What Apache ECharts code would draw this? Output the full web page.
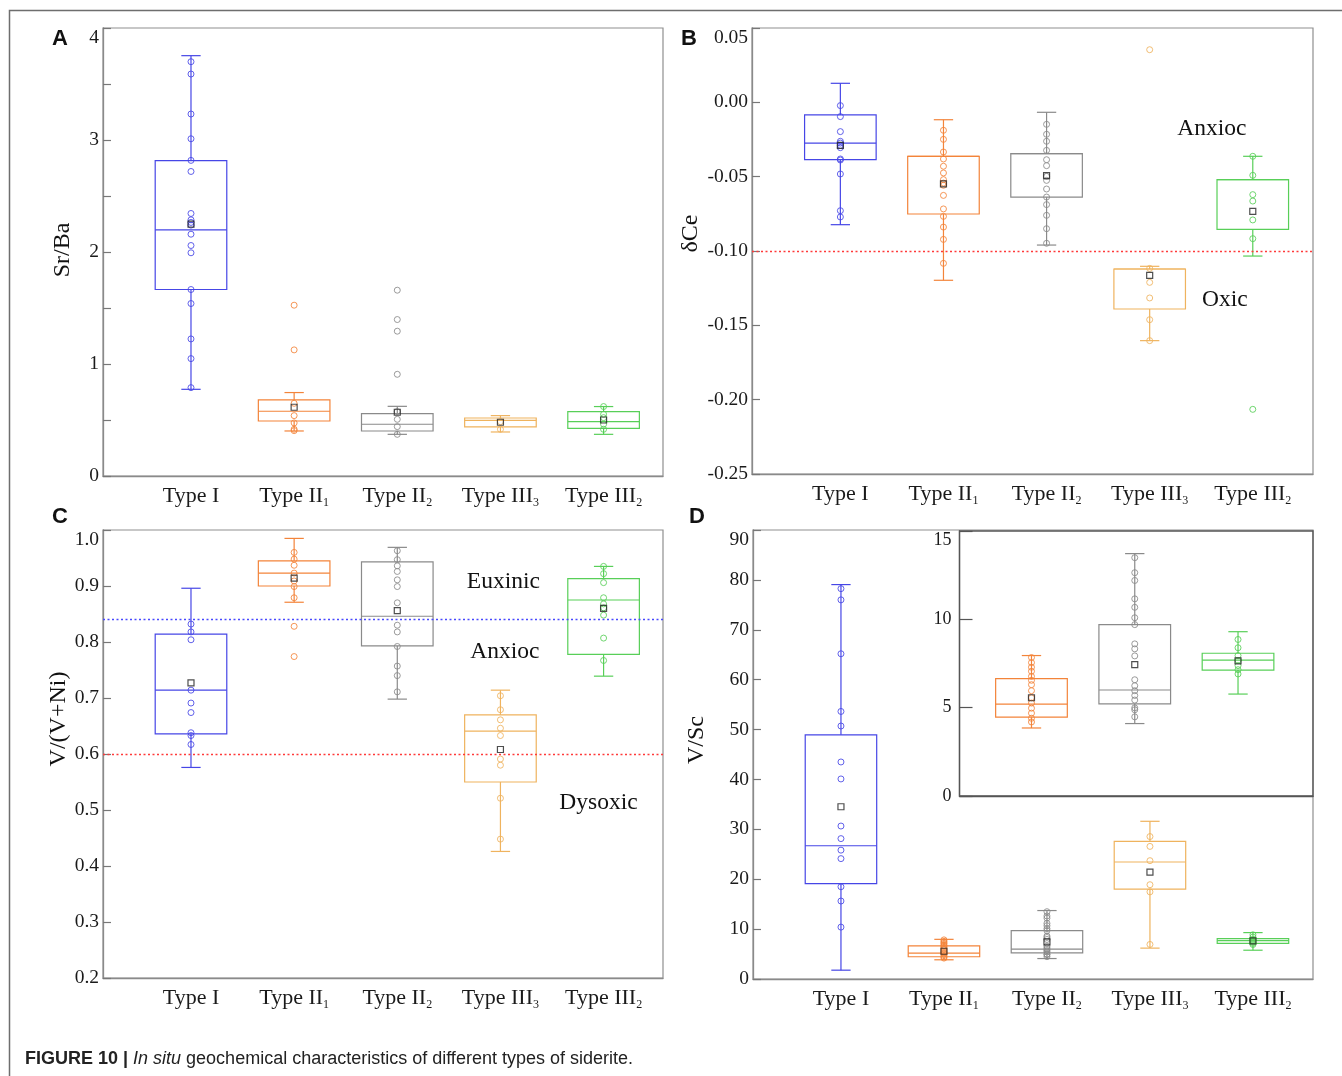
<!DOCTYPE html>
<html>
<head>
<meta charset="utf-8">
<script src="https://cdn.jsdelivr.net/npm/echarts@6/dist/echarts.min.js"></script>
<style>html,body{margin:0;padding:0;background:#fff}#chart{width:1342px;height:1076px}</style>
</head>
<body>
<div id="chart"></div>
<script>
// ---------------- DATA ----------------
const categoryBase = ['Type I', 'Type II', 'Type II', 'Type III', 'Type III'];
const categorySub  = ['', '1', '2', '3', '2'];

// box rows: [lower whisker, Q1, median, Q3, upper whisker]
const srBaBox = [
  [0.774, 1.665, 2.198, 2.815, 3.753],
  [0.402, 0.491, 0.578, 0.679, 0.745],
  [0.372, 0.402, 0.462, 0.557, 0.622],
  [0.393, 0.438, 0.497, 0.518, 0.539],
  [0.372, 0.426, 0.485, 0.575, 0.620]
];
const srBaMean = [2.249, 0.614, 0.569, 0.480, 0.500];
const srBaPoints = [
  [3.699, 3.589, 3.232, 3.011, 2.818, 2.719, 2.344, 2.287, 2.264, 2.240, 2.159, 2.058, 1.993, 1.665, 1.540, 1.224, 1.048, 0.789],
  [1.525, 1.126, 0.649, 0.539, 0.474, 0.417, 0.405],
  [1.659, 1.397, 1.293, 0.908, 0.575, 0.506, 0.441, 0.372],
  [0.485, 0.417],
  [0.620, 0.551, 0.521, 0.462, 0.417]
];

const ceBox = [
  [-0.0823, -0.0386, -0.0274, -0.0085, 0.0128],
  [-0.1197, -0.0751, -0.0363, -0.0363, -0.0117],
  [-0.0960, -0.0637, -0.0345, -0.0345, -0.0067],
  [-0.1603, -0.1390, -0.1121, -0.1121, -0.1103],
  [-0.1034, -0.0854, -0.0520, -0.0520, -0.0363]
];
const ceMean = [-0.0289, -0.0549, -0.0493, -0.1164, -0.0733];
const cePoints = [
  [-0.0022, -0.0096, -0.0197, -0.0262, -0.0274, -0.0290, -0.0305, -0.0381, -0.0388, -0.0482, -0.0729, -0.0771],
  [-0.0188, -0.0249, -0.0334, -0.0381, -0.0430, -0.0475, -0.0520, -0.0543, -0.0558, -0.0626, -0.0717, -0.0767, -0.0839, -0.0922, -0.1083],
  [-0.0148, -0.0215, -0.0262, -0.0323, -0.0386, -0.0426, -0.0498, -0.0525, -0.0583, -0.0637, -0.0688, -0.0760, -0.0850, -0.0948],
  [0.0354, -0.1117, -0.1211, -0.1316, -0.1462, -0.1603],
  [-0.0363, -0.0491, -0.0621, -0.0664, -0.0791, -0.0917, -0.2065]
];
const ceThreshold = [-0.10];

const vvniBox = [
  [0.576, 0.636, 0.714, 0.814, 0.896],
  [0.871, 0.900, 0.923, 0.945, 0.985],
  [0.698, 0.793, 0.846, 0.943, 0.969],
  [0.426, 0.550, 0.641, 0.670, 0.714],
  [0.739, 0.778, 0.875, 0.913, 0.935]
];
const vvniMean = [0.727, 0.914, 0.856, 0.608, 0.860];
const vvniPoints = [
  [0.832, 0.818, 0.804, 0.714, 0.691, 0.674, 0.638, 0.633, 0.617],
  [0.960, 0.948, 0.937, 0.923, 0.909, 0.899, 0.879, 0.828, 0.774],
  [0.963, 0.947, 0.936, 0.926, 0.911, 0.899, 0.870, 0.830, 0.818, 0.792, 0.757, 0.740, 0.711],
  [0.704, 0.679, 0.661, 0.646, 0.633, 0.591, 0.580, 0.521, 0.448],
  [0.935, 0.922, 0.906, 0.879, 0.868, 0.861, 0.848, 0.807, 0.767]
];
const vvniThresholds = [0.84, 0.60];

const vscBox = [
  [1.77, 19.10, 26.71, 48.94, 79.06],
  [3.85, 4.46, 5.20, 6.64, 7.95],
  [4.10, 5.22, 6.00, 9.70, 13.72],
  [6.19, 18.01, 23.45, 27.60, 31.61],
  [5.77, 7.13, 7.69, 8.08, 9.30]
];
const vscMean = [34.53, 5.56, 7.44, 21.41, 7.65];
const vscPoints = [
  [78.24, 76.0, 65.19, 53.63, 50.71, 43.5, 40.1, 30.66, 28.14, 25.83, 24.13, 18.49, 15.63, 10.4],
  [7.84, 7.55, 7.29, 7.06, 6.77, 6.55, 6.30, 5.96, 5.56, 5.26, 4.97, 4.69, 4.40, 4.19],
  [13.49, 12.64, 12.20, 11.16, 10.68, 10.09, 9.70, 8.61, 8.33, 7.93, 6.58, 6.24, 5.96, 5.69, 5.43, 4.99, 4.88, 4.48],
  [28.55, 26.58, 23.72, 18.90, 17.47, 6.93],
  [8.86, 8.39, 7.95, 7.67, 7.38, 7.15, 6.91]
];
const insetGroups = [1, 2, 4];   // Type II1, Type II2, Type III2

const yTicksA = [0, 4, 1];
const yTicksB = [-0.25, 0.05, 0.05];
const yTicksC = [0.2, 1.0, 0.1];
const yTicksD = [0, 90, 10];
const yTicksInset = [0, 15, 5];

// ---------------- STYLE ----------------
const COLORS = ['#4646e6', '#f3843a', '#8a8a8a', '#efb35e', '#58cf58'];
const MEAN_COLOR = '#222';
const SERIF = 'Liberation Serif';
const SANS = 'Liberation Sans';

const RICH = {
  m: { fontFamily: SERIF, fontSize: 22, color: '#1a1a1a', lineHeight: 25 },
  s: { fontFamily: SERIF, fontSize: 12, color: '#1a1a1a', lineHeight: 12, verticalAlign: 'bottom' }
};
function catLabel(v) {
  const i = Math.round(v) - 1;
  if (i < 0 || i >= categoryBase.length) return '';
  return categorySub[i] ? '{m|' + categoryBase[i] + '}{s|' + categorySub[i] + '}' : '{m|' + categoryBase[i] + '}';
}

function renderBox(params, api) {
  const x = api.value(0);
  const c = COLORS[api.value(6)];
  const unit = api.size([1, 0])[0];
  const hw = unit * 0.347, cw = hw * 0.27;
  const P = v => api.coord([x, v]);
  const lo = P(api.value(1)), q1 = P(api.value(2)), md = P(api.value(3)), q3 = P(api.value(4)), hi = P(api.value(5));
  const cx = lo[0];
  const st = { stroke: c, lineWidth: 1.2, fill: 'rgba(0,0,0,0)' };
  return {
    type: 'group',
    children: [
      { type: 'rect', shape: { x: cx - hw, y: q3[1], width: 2 * hw, height: q1[1] - q3[1] }, style: st },
      { type: 'line', shape: { x1: cx - hw, y1: md[1], x2: cx + hw, y2: md[1] }, style: st },
      { type: 'line', shape: { x1: cx, y1: q3[1], x2: cx, y2: hi[1] }, style: st },
      { type: 'line', shape: { x1: cx, y1: q1[1], x2: cx, y2: lo[1] }, style: st },
      { type: 'line', shape: { x1: cx - cw, y1: hi[1], x2: cx + cw, y2: hi[1] }, style: st },
      { type: 'line', shape: { x1: cx - cw, y1: lo[1], x2: cx + cw, y2: lo[1] }, style: st }
    ]
  };
}

function boxSeries(gi, boxes, groups) {
  return {
    type: 'custom', xAxisIndex: gi, yAxisIndex: gi, renderItem: renderBox, silent: true, z: 2,
    encode: { x: 0, y: [1, 2, 3, 4, 5] },
    data: boxes.map((b, i) => [i + 1].concat(b, [groups ? groups[i] : i]))
  };
}
function pointSeries(gi, pts, groups) {
  const data = [];
  pts.forEach((arr, i) => arr.forEach(v => data.push({
    value: [i + 1, v], itemStyle: { borderColor: COLORS[groups ? groups[i] : i] }
  })));
  return {
    type: 'scatter', xAxisIndex: gi, yAxisIndex: gi, symbol: 'circle', symbolSize: 6, silent: true, z: 3,
    itemStyle: { color: 'rgba(0,0,0,0)', borderWidth: 1, opacity: 0.85 }, data
  };
}
function meanSeries(gi, means) {
  return {
    type: 'scatter', xAxisIndex: gi, yAxisIndex: gi, symbol: 'rect', symbolSize: 6, silent: true, z: 4,
    itemStyle: { color: 'rgba(0,0,0,0)', borderColor: MEAN_COLOR, borderWidth: 1.2 },
    data: means.map((v, i) => [i + 1, v])
  };
}
function noteSeries(gi, notes) {
  return {
    type: 'scatter', xAxisIndex: gi, yAxisIndex: gi, symbolSize: 1, silent: true, z: 5,
    itemStyle: { color: 'rgba(0,0,0,0)' },
    label: { show: true, position: 'inside', formatter: '{b}', fontFamily: SERIF, fontSize: 23.5,
      color: '#111', opacity: 1, textBorderWidth: 0, textShadowBlur: 0 },
    data: notes
  };
}

function makeX(gi, min, max, labels, lineColor) {
  return {
    type: 'value', gridIndex: gi, min, max,
    axisLine: { show: true, onZero: false, lineStyle: { color: lineColor, width: 1.3 } },
    axisTick: { show: false }, splitLine: { show: false },
    axisLabel: labels ? { customValues: [1, 2, 3, 4, 5], formatter: catLabel, margin: 8, rich: RICH } : { show: false }
  };
}
function makeY(gi, ticks, fmt, name, gap, pad, opts) {
  opts = opts || {};
  const ax = {
    type: 'value', gridIndex: gi, min: ticks[0], max: ticks[1], interval: ticks[2],
    axisLine: { show: true, onZero: false, lineStyle: { color: opts.lineColor || '#8a8a8a', width: 1.3 } },
    axisTick: { show: true, inside: true, length: opts.tickLen || 8, lineStyle: { color: opts.lineColor || '#777', width: 1.2 } },
    splitLine: { show: false },
    axisLabel: { formatter: fmt, fontFamily: SERIF, fontSize: opts.fontSize || 19.5, color: '#1a1a1a', margin: opts.margin || 4, verticalAlignMaxLabel: 'top' }
  };
  if (opts.minor) ax.minorTick = { show: true, splitNumber: 2, length: 8, lineStyle: { color: '#777', width: 1.2 } };
  if (name) {
    ax.name = name; ax.nameLocation = 'middle'; ax.nameGap = gap;
    ax.nameTextStyle = { fontFamily: SERIF, fontSize: 24, color: '#111', padding: [0, 0, 0, pad] };
  }
  return ax;
}

const frame = { show: true, borderColor: '#8f8f8f', borderWidth: 1.2, backgroundColor: 'rgba(0,0,0,0)' };
const dotted = [2, 2.5];
const RED = '#ff3a3a', BLUE = '#4848ff';
const option = {
  animation: false,
  backgroundColor: '#fff',
  grid: [
    Object.assign({ left: 103, top: 28, width: 560, height: 448 }, frame),
    Object.assign({ left: 752, top: 28, width: 561, height: 446 }, frame),
    Object.assign({ left: 103, top: 530, width: 560, height: 448 }, frame),
    Object.assign({ left: 753, top: 530, width: 560, height: 449 }, frame),
    { show: true, left: 959.5, top: 531, width: 353.5, height: 265, borderColor: '#555', borderWidth: 1.3, backgroundColor: 'rgba(0,0,0,0)' }
  ],
  xAxis: [
    makeX(0, 0.147, 5.576, true, '#8a8a8a'),
    makeX(1, 0.143, 5.584, true, '#8a8a8a'),
    makeX(2, 0.147, 5.576, true, '#8a8a8a'),
    makeX(3, 0.146, 5.583, true, '#8a8a8a'),
    makeX(4, 0.303, 3.726, false, '#555')
  ],
  yAxis: [
    makeY(0, yTicksA, v => String(v), 'Sr/Ba', 28, 4, { minor: true }),
    makeY(1, yTicksB, v => (Math.abs(v) < 1e-9 ? '0.00' : v.toFixed(2)), 'δCe', 49, 35),
    makeY(2, yTicksC, v => v.toFixed(1), 'V/(V+Ni)', 31, 70),
    makeY(3, yTicksD, v => String(Math.round(v)), 'V/Sc', 44, 29),
    makeY(4, yTicksInset, v => String(Math.round(v)), null, 0, 0, { lineColor: '#555', tickLen: 13, margin: 8, fontSize: 18 })
  ],
  series: [
    boxSeries(0, srBaBox), pointSeries(0, srBaPoints), meanSeries(0, srBaMean),
    Object.assign(boxSeries(1, ceBox), {
      markLine: { silent: true, symbol: 'none', label: { show: false }, precision: 4,
        lineStyle: { type: dotted, color: RED, width: 1.3, opacity: 1 },
        data: ceThreshold.map(v => ({ yAxis: v, lineStyle: { type: dotted, color: RED, width: 1.3, opacity: 1 } })) }
    }),
    pointSeries(1, cePoints), meanSeries(1, ceMean),
    noteSeries(1, [{ name: 'Anxioc', value: [4.604, -0.0179] }, { name: 'Oxic', value: [4.730, -0.133] }]),
    Object.assign(boxSeries(2, vvniBox), {
      markLine: { silent: true, symbol: 'none', label: { show: false }, precision: 4,
        lineStyle: { type: dotted, width: 1.3, opacity: 1 },
        data: [
          { yAxis: vvniThresholds[0], lineStyle: { type: dotted, color: BLUE, width: 1.3, opacity: 1 } },
          { yAxis: vvniThresholds[1], lineStyle: { type: dotted, color: RED, width: 1.3, opacity: 1 } }
        ] }
    }),
    pointSeries(2, vvniPoints), meanSeries(2, vvniMean),
    noteSeries(2, [{ name: 'Euxinic', value: [4.028, 0.908] }, { name: 'Anxioc', value: [4.042, 0.782] }, { name: 'Dysoxic', value: [4.950, 0.5134] }]),
    boxSeries(3, vscBox), pointSeries(3, vscPoints), meanSeries(3, vscMean),
    boxSeries(4, insetGroups.map(g => vscBox[g]), insetGroups),
    pointSeries(4, insetGroups.map(g => vscPoints[g]), insetGroups),
    meanSeries(4, insetGroups.map(g => vscMean[g]))
  ],
  graphic: [
    { type: 'polyline', silent: true, shape: { points: [[9.5, 1076], [9.5, 10.5], [1342, 10.5]] }, style: { stroke: '#6e6e6e', lineWidth: 1.5, fill: null } },
    { type: 'text', x: 60, y: 39, silent: true, style: { text: 'A', font: 'bold 22px "Liberation Sans"', fill: '#111', align: 'center', verticalAlign: 'middle' } },
    { type: 'text', x: 689, y: 39, silent: true, style: { text: 'B', font: 'bold 22px "Liberation Sans"', fill: '#111', align: 'center', verticalAlign: 'middle' } },
    { type: 'text', x: 60, y: 517, silent: true, style: { text: 'C', font: 'bold 22px "Liberation Sans"', fill: '#111', align: 'center', verticalAlign: 'middle' } },
    { type: 'text', x: 697, y: 517, silent: true, style: { text: 'D', font: 'bold 22px "Liberation Sans"', fill: '#111', align: 'center', verticalAlign: 'middle' } },
    { type: 'text', x: 25, y: 1059, silent: true, style: {
      text: '{b|FIGURE 10 |} {i|In situ} geochemical characteristics of different types of siderite.',
      fontFamily: SANS, fontSize: 18, fill: '#222', verticalAlign: 'middle',
      rich: {
        b: { fontFamily: SANS, fontSize: 18, fontWeight: 'bold', fill: '#222', color: '#222' },
        i: { fontFamily: SANS, fontSize: 18, fontStyle: 'italic', fill: '#222', color: '#222' }
      } } }
  ]
};
const chart = echarts.init(document.getElementById('chart'));
chart.setOption(option);
</script>
</body>
</html>
